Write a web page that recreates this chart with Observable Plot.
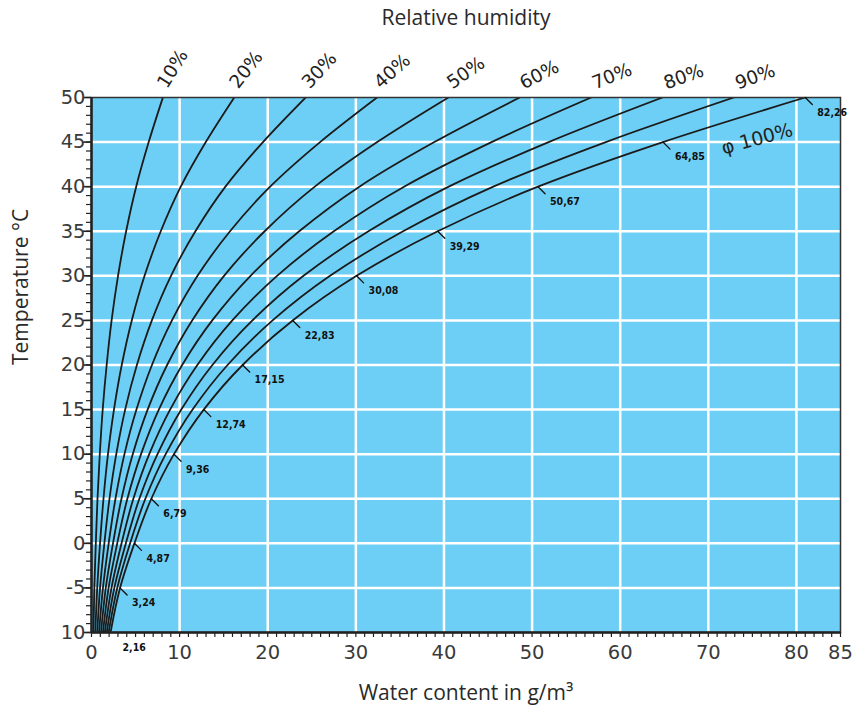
<!DOCTYPE html>
<html>
<head>
<meta charset="utf-8">
<script src="https://cdn.jsdelivr.net/npm/d3@7"></script>
<script src="https://cdn.jsdelivr.net/npm/@observablehq/plot@0.6"></script>
<style>
  html, body { margin: 0; padding: 0; background: #ffffff; }
  #chart { width: 854px; height: 710px; }
</style>
</head>
<body>
<div id="chart"></div>
<script>
// Temperature (°C) levels at which water content was read
const temps = [-10, -5, 0, 5, 10, 15, 20, 25, 30, 35, 40, 45, 50];

// Water content (g/m³) per relative-humidity curve
const rh10  = [0.22, 0.32, 0.49, 0.68, 0.94, 1.27, 1.72, 2.28, 3.01, 3.93, 5.07, 6.49, 8.1];
const rh20  = [0.43, 0.65, 0.97, 1.36, 1.87, 2.55, 3.43, 4.57, 6.02, 7.86, 10.13, 12.97, 16.2];
const rh30  = [0.65, 0.97, 1.46, 2.04, 2.81, 3.82, 5.15, 6.85, 9.02, 11.79, 15.20, 19.46, 24.3];
const rh40  = [0.86, 1.30, 1.95, 2.72, 3.74, 5.10, 6.86, 9.13, 12.03, 15.72, 20.27, 25.94, 32.4];
const rh50  = [1.08, 1.62, 2.44, 3.40, 4.68, 6.37, 8.58, 11.42, 15.04, 19.65, 25.34, 32.43, 40.5];
const rh60  = [1.30, 1.94, 2.92, 4.07, 5.62, 7.64, 10.29, 13.70, 18.05, 23.57, 30.40, 38.91, 48.6];
const rh70  = [1.51, 2.27, 3.41, 4.75, 6.55, 8.92, 12.01, 15.98, 21.06, 27.50, 35.47, 45.40, 56.7];
const rh80  = [1.73, 2.59, 3.90, 5.43, 7.49, 10.19, 13.72, 18.26, 24.06, 31.43, 40.54, 51.88, 64.8];
const rh90  = [1.94, 2.92, 4.38, 6.11, 8.42, 11.47, 15.44, 20.55, 27.07, 35.36, 45.60, 58.37, 72.9];
const rh100 = [2.16, 3.24, 4.87, 6.79, 9.36, 12.74, 17.15, 22.83, 30.08, 39.29, 50.67, 64.85, 81.0];

const humidityNames = ["10%", "20%", "30%", "40%", "50%", "60%", "70%", "80%", "90%", "100%"];
const humiditySeries = [rh10, rh20, rh30, rh40, rh50, rh60, rh70, rh80, rh90, rh100];

// Saturation values printed along the 100% curve
const saturationLabels = ["2,16", "3,24", "4,87", "6,79", "9,36", "12,74", "17,15", "22,83",
                          "30,08", "39,29", "50,67", "64,85", "82,26"];

// Axis ticks
const xTicks = [0, 10, 20, 30, 40, 50, 60, 70, 80, 85];
const yTicks = [-10, -5, 0, 5, 10, 15, 20, 25, 30, 35, 40, 45, 50];
const yTickLabels = ["10", "-5", "0", "5", "10", "15", "20", "25", "30", "35", "40", "45", "50"];

// ---- tables built from the arrays above ----
const rows = humiditySeries.flatMap((arr, i) =>
  arr.map((w, j) => ({rh: humidityNames[i], w, t: temps[j]})));

const labelAngles = [-58, -52, -47, -42, -35, -27, -22, -20, -20];
const topLabels = humiditySeries.slice(0, 9).map((arr, i) => ({
  label: humidityNames[i], w: arr[arr.length - 1], t: temps[temps.length - 1], angle: labelAngles[i]
}));

const satPoints = rh100.map((w, j) => ({w, t: temps[j], label: saturationLabels[j], i: j}));

const yLabelOf = new Map(yTicks.map((v, i) => [v, yTickLabels[i]]));

const leader = {
  draw(context, l) { context.moveTo(0, 0); context.lineTo(0, -l); }
};

const chart = Plot.plot({
  width: 854,
  height: 710,
  marginLeft: 91,
  marginRight: 14,
  marginTop: 97,
  marginBottom: 78,
  style: {fontFamily: "'DejaVu Sans', sans-serif", background: "#ffffff", color: "#333"},
  x: {domain: [0, 85], label: null},
  y: {domain: [-10, 50], label: null},
  marks: [
    Plot.frame({fill: "#6dcff5"}),
    Plot.gridX({ticks: [10, 20, 30, 40, 50, 60, 70, 80], stroke: "#ffffff", strokeOpacity: 1, strokeWidth: 2.5}),
    Plot.gridY({ticks: [-5, 0, 5, 10, 15, 20, 25, 30, 35, 40, 45], stroke: "#ffffff", strokeOpacity: 1, strokeWidth: 2.5}),
    Plot.line(rows, {x: "w", y: "t", z: "rh", curve: "monotone-y", stroke: "#1b1b1b", strokeWidth: 1.8, clip: true}),
    Plot.frame({stroke: "#333", strokeWidth: 1.5}),
    Plot.ruleY([-10], {stroke: "#222", strokeWidth: 2.5}),
    Plot.ruleX([0], {stroke: "#222", strokeWidth: 2.5}),
    // minor & major ticks
    Plot.axisX({ticks: d3.range(0, 86), tickSize: 5, text: null, label: null, stroke: "#222", strokeWidth: 1.2}),
    Plot.axisY({ticks: d3.range(-10, 51), tickSize: 5, text: null, label: null, stroke: "#222", strokeWidth: 1.2}),
    Plot.axisY({ticks: yTicks, tickSize: 8, text: null, label: null, stroke: "#222", strokeWidth: 1.6}),
    // tick labels
    Plot.axisX({ticks: xTicks, tickSize: 0, tickPadding: 13, fontSize: 19.5, label: null, tickFormat: d => String(d), fill: "#3a3a3a"}),
    Plot.axisY({ticks: yTicks, tickSize: 0, tickPadding: 6, fontSize: 19.5, label: null, tickFormat: d => yLabelOf.get(d), fill: "#3a3a3a"}),
    // humidity labels above the frame
    Plot.text(topLabels, {x: "w", y: "t", text: "label", rotate: "angle", textAnchor: "start", lineAnchor: "bottom",
      dx: 4, dy: -8, fontSize: 18.5, fill: "#222"}),
    // φ 100% label
    Plot.text(["φ 100%"], {frameAnchor: "top-right", dx: -50, dy: 25, rotate: -15, fontSize: 19, fill: "#222", textAnchor: "end"}),
    // leaders & saturation values on the 100% curve
    Plot.vector(satPoints.filter(d => d.i > 0), {x: "w", y: "t", length: 10, rotate: 135, anchor: "start", shape: leader, stroke: "#111", strokeWidth: 1.3}),
    Plot.text(satPoints, {x: "w", y: "t", text: "label", textAnchor: "start", dx: 12, dy: 15,
      fontSize: 10.5, fontWeight: "bold", fill: "#111", fontFamily: "'DejaVu Sans Condensed', sans-serif"}),
    // axis titles
    Plot.text(["Relative humidity"], {frameAnchor: "top", lineAnchor: "middle", dy: -79, fontSize: 21, fill: "#2a2a2a", fontFamily: "'Open Sans', sans-serif"}),
    Plot.text(["Water content in g/m³"], {frameAnchor: "bottom", lineAnchor: "middle", dy: 61, fontSize: 21, fill: "#2a2a2a", fontFamily: "'Open Sans', sans-serif"}),
    Plot.text(["Temperature °C"], {frameAnchor: "left", lineAnchor: "middle", dx: -70, rotate: -90, fontSize: 21, fill: "#2a2a2a", fontFamily: "'Open Sans', sans-serif"})
  ]
});

document.getElementById("chart").appendChild(chart);
</script>
</body>
</html>
